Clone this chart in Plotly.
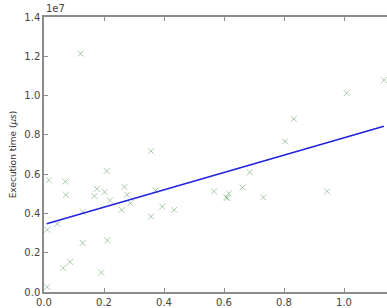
import plotly.graph_objects as go

# scatter data (x, execution time in microseconds)
xs = [0.016, 0.071, 0.073, 0.209, 0.176, 0.168, 0.202, 0.011, 0.044, 0.129,
      0.129, 0.211, 0.064, 0.087, 0.191, 0.011, 0.220, 0.357, 0.268, 0.277,
      0.288, 0.259, 0.372, 0.394, 0.434, 0.357, 0.122, 0.567, 0.607, 0.616,
      0.611, 0.662, 0.686, 0.731, 0.804, 0.833, 0.944, 1.009, 1.133]
ys = [5.69e6, 5.62e6, 4.95e6, 6.16e6, 5.25e6, 4.88e6, 5.09e6, 3.17e6, 3.47e6, 4.08e6,
      2.50e6, 2.63e6, 1.22e6, 1.53e6, 0.99e6, 0.25e6, 4.66e6, 7.17e6, 5.35e6, 4.95e6,
      4.52e6, 4.18e6, 5.17e6, 4.35e6, 4.18e6, 3.84e6, 12.14e6, 5.12e6, 4.82e6, 5.02e6,
      4.78e6, 5.32e6, 6.09e6, 4.82e6, 7.67e6, 8.81e6, 5.12e6, 10.12e6, 10.79e6]

# fitted regression line endpoints
line_x = [0.009, 1.133]
line_y = [3.47e6, 8.44e6]

x_ticks = [0.0, 0.2, 0.4, 0.6, 0.8, 1.0]
y_ticks = [0, 0.2e7, 0.4e7, 0.6e7, 0.8e7, 1.0e7, 1.2e7, 1.4e7]
y_ticktext = ["0.0", "0.2", "0.4", "0.6", "0.8", "1.0", "1.2", "1.4"]

fig = go.Figure()
fig.add_trace(go.Scatter(
    x=xs, y=ys, mode="markers",
    marker=dict(symbol="x-thin", size=6, line=dict(width=1, color="rgba(40,120,40,0.38)")),
    showlegend=False))
fig.add_trace(go.Scatter(
    x=line_x, y=line_y, mode="lines",
    line=dict(color="#2222dd", width=1.6), showlegend=False))

axis_col = "#8c8c8c"
font = dict(family="DejaVu Sans", size=10, color="#444")
fig.update_layout(
    width=387, height=308,
    margin=dict(l=44, r=0, t=17, b=13),
    paper_bgcolor="white", plot_bgcolor="white",
    font=font,
    xaxis=dict(range=[0, 1.1433], tickvals=x_ticks, ticktext=[f"{v:.1f}" for v in x_ticks],
               showgrid=False, zeroline=False, showline=True, linecolor=axis_col, linewidth=1.5,
               mirror="ticks", ticks="inside", ticklen=4, tickcolor=axis_col, tickfont=font),
    yaxis=dict(range=[0, 1.4e7], tickvals=y_ticks, ticktext=y_ticktext,
               showgrid=False, zeroline=False, showline=True, linecolor=axis_col, linewidth=1.5,
               ticks="inside", ticklen=4, tickcolor=axis_col, tickfont=font,
               title=dict(text="Execution time (<i>μs</i>)", font=dict(family="DejaVu Sans", size=9, color="#333"),
                          standoff=6)),
    annotations=[dict(text="1e7", x=0, y=1, xref="paper", yref="paper",
                      xanchor="left", yanchor="bottom", showarrow=False, yshift=1,
                      font=dict(family="DejaVu Sans", size=10, color="#444"))],
)
fig.write_html("out.html")
